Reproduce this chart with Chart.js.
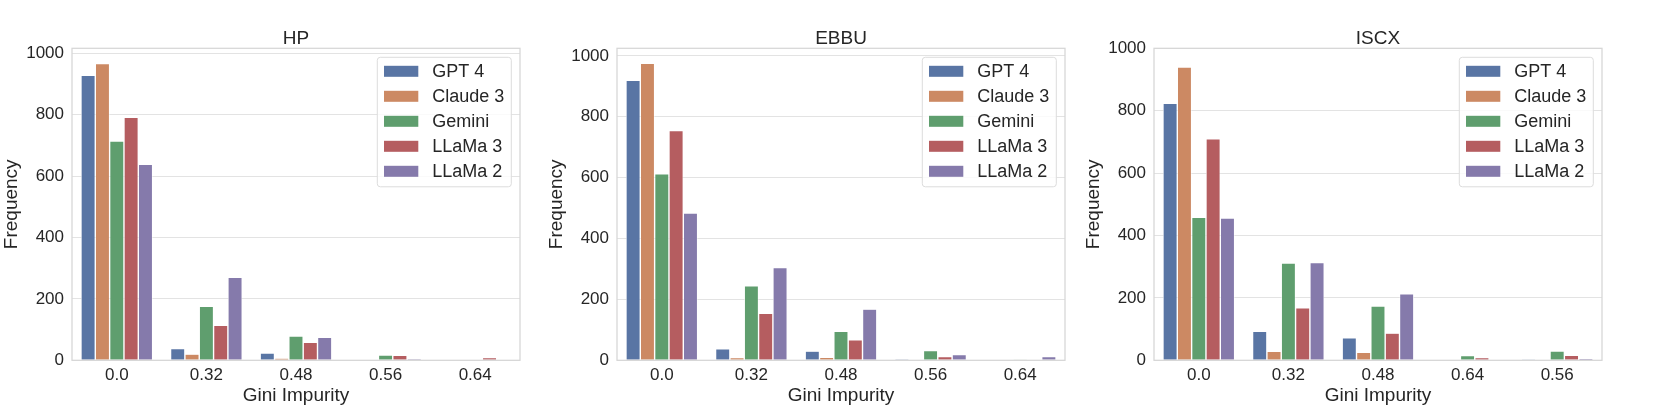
<!DOCTYPE html>
<html>
<head>
<meta charset="utf-8">
<script src="https://cdn.jsdelivr.net/npm/chart.js@4.4.1/dist/chart.umd.min.js"></script>
<style>
   body { margin: 0; background: #fff; width: 1661px; height: 406px; overflow: hidden; position: relative; }
   canvas { position: absolute; top: 0; }
</style>
</head>
<body>
<canvas id="hp" width="530" height="406" style="left:0px"></canvas>
<canvas id="ebbu" width="530" height="406" style="left:545px"></canvas>
<canvas id="iscx" width="530" height="406" style="left:1082px"></canvas>
<script>
let models = ["GPT 4", "Claude 3", "Gemini", "LLaMa 3", "LLaMa 2"];
let colors = ["#5975a4", "#cc8963", "#5f9e6e", "#b55d60", "#857aab"];
let yTicks = [0, 200, 400, 600, 800, 1000];

let hpLabels = ["0.0", "0.32", "0.48", "0.56", "0.64"];
let hpGpt4 = [928, 38, 24, 0, 0];
let hpClaude3 = [966, 20, 7, 0, 0];
let hpGemini = [714, 176, 79, 17, 0];
let hpLlama3 = [791, 114, 59, 16, 9];
let hpLlama2 = [638, 270, 75, 6, 0];

let ebbuLabels = ["0.0", "0.32", "0.48", "0.56", "0.64"];
let ebbuGpt4 = [920, 38, 30, 4, 0];
let ebbuClaude3 = [976, 9, 10, 0, 0];
let ebbuGemini = [613, 245, 95, 32, 3];
let ebbuLlama3 = [755, 154, 67, 12, 2];
let ebbuLlama2 = [484, 305, 168, 19, 12];

let iscxLabels = ["0.0", "0.32", "0.48", "0.64", "0.56"];
let iscxGpt4 = [824, 93, 72, 0, 3];
let iscxClaude3 = [940, 29, 26, 0, 0];
let iscxGemini = [458, 312, 174, 15, 30];
let iscxLlama3 = [710, 168, 87, 9, 16];
let iscxLlama2 = [456, 313, 213, 0, 6];

const textColor = "#262626";
Chart.defaults.font.family = "'Liberation Sans', Arial, sans-serif";
Chart.defaults.color = textColor;

// frame round the plot + matplotlib style legend box in upper right
const frameLegend = {
   id: "frameLegend",
   afterDatasetsDraw(chart) {
      const {ctx, chartArea: a} = chart;
      ctx.save();
      ctx.strokeStyle = "#d6d6d6";
      ctx.lineWidth = 1.25;
      ctx.strokeRect(a.left, a.top, a.right - a.left, a.bottom - a.top);

      const w = 134, h = 129.5;
      const x = a.right - 8.7 - w, y = a.top + 9;
      ctx.beginPath();
      ctx.roundRect(x, y, w, h, 3);
      ctx.fillStyle = "rgba(255,255,255,0.8)";
      ctx.fill();
      ctx.strokeStyle = "#dcdcdc";
      ctx.lineWidth = 1;
      ctx.stroke();

      ctx.font = "18px 'Liberation Sans', Arial, sans-serif";
      ctx.textBaseline = "middle";
      chart.data.datasets.forEach((ds, i) => {
         const cy = y + 14 + i * 25;
         ctx.fillStyle = ds.backgroundColor;
         ctx.fillRect(x + 6.7, cy - 5.5, 34.3, 11);
         ctx.fillStyle = textColor;
         ctx.fillText(ds.label, x + 55, cy + 1);
      });
      ctx.restore();
   },
};

function makeChart(id, title, labels, series, ymax) {
   return new Chart(document.getElementById(id), {
      type: "bar",
      data: {
         labels: labels,
         datasets: series.map((data, i) => ({
            label: models[i],
            data: data,
            backgroundColor: colors[i],
            borderColor: "#ffffff",
            borderWidth: 0.7,
            categoryPercentage: 0.8,
            barPercentage: 1.0,
         })),
      },
      options: {
         responsive: false,
         animation: false,
         devicePixelRatio: 1,
         layout: {padding: {left: 0, right: 10, top: 0, bottom: 0}},
         scales: {
            x: {
               grid: {display: false, drawTicks: false},
               border: {display: false},
               ticks: {font: {size: 17}, padding: 5, color: textColor},
               title: {
                  display: true,
                  text: "Gini Impurity",
                  font: {size: 19},
                  color: textColor,
                  padding: {top: 0, bottom: -1},
               },
               afterFit(s) { s.height = 45.7; },
            },
            y: {
               min: 0,
               max: ymax,
               grid: {color: "#e3e3e3", lineWidth: 1, drawTicks: false},
               border: {display: false},
               afterBuildTicks(s) { s.ticks = yTicks.map((v) => ({value: v})); },
               ticks: {
                  padding: 8,
                  font: {size: 17},
                  color: textColor,
                  callback: (v) => String(v),
               },
               title: {
                  display: true,
                  text: "Frequency",
                  font: {size: 19},
                  color: textColor,
                  padding: {top: 0, bottom: 0},
               },
               afterFit(s) { s.width = 72; },
            },
         },
         plugins: {
            legend: {display: false},
            tooltip: {enabled: false},
            title: {
               display: true,
               text: title,
               fullSize: false,
               color: textColor,
               font: {size: 19, weight: "normal"},
               padding: {top: 27.5, bottom: -2},
            },
         },
      },
      plugins: [frameLegend],
   });
}

makeChart("hp", "HP", hpLabels, [hpGpt4, hpClaude3, hpGemini, hpLlama3, hpLlama2], 1016);
makeChart("ebbu", "EBBU", ebbuLabels, [ebbuGpt4, ebbuClaude3, ebbuGemini, ebbuLlama3, ebbuLlama2], 1025);
makeChart("iscx", "ISCX", iscxLabels, [iscxGpt4, iscxClaude3, iscxGemini, iscxLlama3, iscxLlama2], 1000);
</script>
</body>
</html>
